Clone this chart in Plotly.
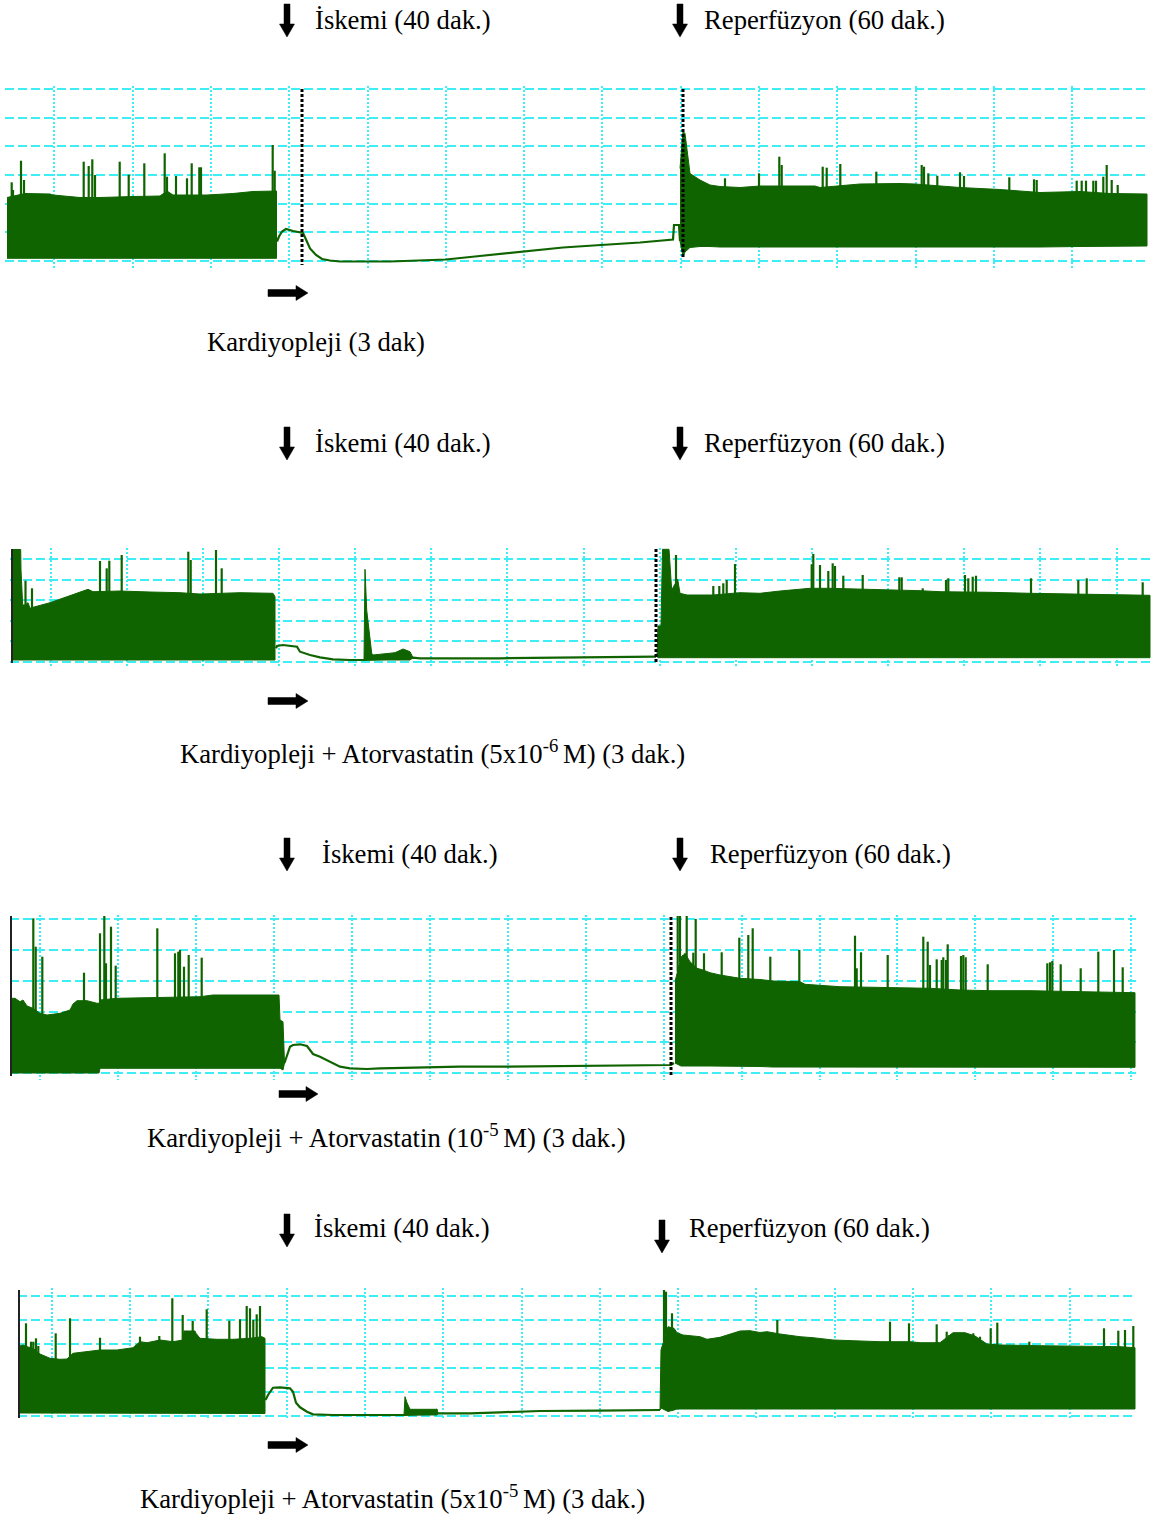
import numpy as np
import plotly.graph_objects as go

W, H = 1152, 1517
GREEN = "#0f6400"
CYAN = "#3deef4"
FONT = "Liberation Serif, Times New Roman, serif"
FSIZE = 26.7

# ---------------- Kayıt 1: Kardiyopleji (3 dak) ----------------
p1_pre_t = [7, 25, 50, 53, 80, 100, 133, 160, 167, 173, 207, 233, 253, 273, 276.5]
p1_pre_hi = [63.5, 67.5, 67, 66, 63.5, 63.5, 64.5, 65, 70, 66, 66, 67.5, 69.5, 70, 70]
p1_pre_lo = [2.7, 2.7, 2.7, 2.7, 2.7, 2.7, 2.7, 2.7, 2.7, 2.7, 2.7, 2.7, 2.7, 2.7, 2.7]
p1_isc_t = [277, 279, 282, 286, 293, 300, 303, 306, 310, 316, 322, 330, 340, 390, 446,
            475, 525, 563, 601, 640, 673, 674, 679, 680]
p1_isc_y = [19.5, 24.5, 29.5, 32, 30, 28.5, 28, 21.5, 12.5, 6, 2, 0.5, -0.5, -0.5, 1.5,
            4.5, 9.5, 13.5, 16, 18.5, 21.5, 36, 36, 20]
p1_rep_t = [680, 683, 685, 688, 690, 700, 710, 720, 740, 760, 790, 815, 820, 860, 900,
            915, 960, 1000, 1040, 1080, 1110, 1147]
p1_rep_hi = [92.5, 129.5, 127.5, 102.5, 87.5, 81, 76, 74.5, 73.5, 75, 75, 75, 73.5, 77, 77.5,
             77, 73.5, 71.5, 68.5, 69.5, 67.5, 67]
p1_rep_lo = [20, 4.5, 9, 12, 13.5, 14.5, 14.5, 14, 14, 14, 13.5, 13.5, 13.5, 13.5, 13.5,
             13.5, 13.5, 14, 14, 14.5, 15, 15]
p1_spk_t = [11.7, 13, 21, 24, 83.7, 88.7, 92.3, 95, 119.7, 128.7, 144.3, 164.7, 167, 176,
            187, 191.7, 199.3, 201, 272.7, 274.7,
            725, 759, 779.3, 781.7, 822.7, 826.7, 840.3, 876.3, 921.7, 924, 928.3, 937.3,
            960, 964, 1009.3, 1034, 1036.7, 1076.7, 1081.7, 1086, 1093.3, 1096, 1103.3,
            1106.7, 1111.7, 1117.7]
p1_spk_top = [78.7, 71, 100.3, 81, 99.3, 95, 101.7, 86, 99.3, 86.3, 97.7, 107.7, 84.3, 85,
              82.7, 97.7, 93.7, 93.7, 116, 90.3,
              82.7, 87.7, 104.3, 96, 94.3, 93.3, 97, 89.3, 96, 94.3, 87.7, 85.3,
              88.7, 85, 83.7, 81.7, 81, 80.3, 80.3, 80.3, 80.3, 80.3, 84.3,
              96, 81, 76]

# ---------------- Kayıt 2: Atorvastatin 5x10^-6 M ----------------
p2_pre_t = [12, 20.7, 21, 22.7, 25, 28, 30, 33, 50, 67, 80, 88, 93, 120, 150, 180, 200, 240,
            273, 275]
p2_pre_hi = [112.5, 112.5, 92, 57, 57, 59.3, 53.7, 54.7, 59.3, 65.3, 69.3, 72.7, 70.3, 71, 70,
             69.3, 68, 69.3, 68.7, 65.3]
p2_pre_lo = [2, 2, 2, 2, 2, 2, 2, 2, 2, 2, 2, 2, 2, 2, 2, 2, 2, 2, 2, 2]
p2_isc_t = [276, 277, 283, 297, 300, 310, 320, 333, 350, 364, 413, 420, 500, 600, 650, 656]
p2_isc_y = [13.7, 16, 17, 15.3, 10.3, 7, 4.7, 2.7, 2, 2, 4.3, 3.7, 3.7, 4.3, 5, 5.3]
p2_bst_t = [364, 365, 366.7, 369.3, 371.7, 373, 390, 395, 403, 410, 413]
p2_bst_hi = [2, 92.7, 52, 27, 8.7, 7, 8.7, 9.3, 13, 10.3, 4.3]
p2_bst_lo = [2, 2, 2, 2, 2, 2, 2, 2, 2, 2, 4.3]
p2_rep_t = [657, 658, 661, 662.5, 669, 670, 671.7, 677.7, 680, 687, 713, 740, 760, 780, 800,
            810, 830, 860, 890, 920, 940, 965, 990, 1030, 1080, 1110, 1150]
p2_rep_hi = [5.3, 36, 36, 112.7, 112.7, 95.3, 72, 82.7, 68.7, 67, 67, 69.3, 68.7, 71, 72.7,
             73.7, 73.7, 73, 72, 71.3, 70.3, 70.3, 69.7, 68.7, 67.7, 67, 66.7]
p2_rep_lo = [5.3, 4.3, 4.3, 4.3, 4.3, 4.3, 4.3, 4.3, 4.3, 4.3, 4.3, 4.3, 4.3, 4.3, 4.3,
             4.3, 4.3, 4.3, 4.3, 4.3, 4.3, 4.3, 4.3, 4.3, 4.3, 4.3, 4.3]
p2_spk_t = [25.5, 32, 100, 106.7, 109.3, 121.7, 188.3, 190.7, 216, 221.7,
            676, 713.3, 719.3, 723.3, 726.7, 735, 811.7, 813.3, 820, 828.3, 832.7, 835,
            843.3, 862.7, 899.3, 901.7, 922.7, 946, 948.3, 965, 968.3, 972.7, 976, 1031,
            1078.3, 1086.7, 1142.7]
p2_spk_top = [81.3, 73.7, 101, 93.7, 101.3, 107, 110.3, 102, 112, 93.7,
              107, 76, 76, 78.7, 82, 98, 97.7, 108, 97, 91, 98.7, 96,
              86.3, 87, 84.7, 84.7, 73.7, 82, 83.7, 87, 83.7, 85.3, 86.3, 83.7,
              82, 83.7, 79.7]

# ---------------- Kayıt 3: Atorvastatin 10^-5 M ----------------
p3_pre_t = [12, 15, 20, 23, 27, 33, 40, 47, 60, 70, 73, 77, 87, 93, 97, 99, 100, 117, 150,
            200, 213, 250, 279, 280, 283, 284.5]
p3_pre_hi = [74.7, 74.7, 71.3, 73, 67, 64.7, 59.7, 58, 59.7, 63, 69, 72.3, 72.3, 70.3, 69.7,
             69.7, 73, 74.7, 75.3, 76.3, 78, 78, 78, 53, 51.3, 10]
p3_pre_lo = [0, 0, 0, 0, 0, 0, 0, 0, 0, 0, 0, 0, 0, 0, 0, 0, 4.7, 4.7, 4.7, 4.7, 4.7, 4.7,
             4.7, 4.7, 3, 10]
p3_isc_t = [284.5, 290, 293, 300, 307, 311, 313, 320, 330, 340, 350, 367, 380, 420, 460, 500,
            600, 671, 674]
p3_isc_y = [10, 26.3, 28, 28.7, 27, 21.3, 19, 16.3, 11.3, 6.3, 4.7, 4, 4.7, 5.7, 6.3, 6.3,
            7.3, 8, 10]
p3_rep_t = [675, 681, 683, 686, 690, 697, 703, 710, 720, 733, 740, 760, 773, 800, 805, 840,
            870, 900, 930, 960, 990, 1030, 1070, 1100, 1110, 1135]
p3_rep_hi = [91.3, 115.7, 118, 118, 111.3, 104.7, 103, 100.3, 98, 95.7, 94.7, 93.5, 92, 91.3,
             88.7, 86.3, 85.7, 85.7, 84.7, 83, 82.3, 82.3, 81.3, 81.3, 80.3, 80.3]
p3_rep_lo = [10, 7, 7, 7, 7, 7, 7, 7, 7, 7, 7, 6.5, 6, 5.7, 5.7, 5.7, 5.7, 5.7, 5.7, 5.7,
             5.7, 5.7, 5.7, 5.7, 5.7, 5.7]
p3_spk_t = [33.3, 35.7, 42.3, 84, 100, 104.3, 106, 111, 115.7, 157.3, 175, 178.3, 180, 184,
            188.7, 201.7,
            677.7, 680, 685, 686.7, 693.3, 695.7, 704, 721.7, 739.3, 748.3, 752.7, 770.3,
            799.3, 855, 856.7, 861, 887.7, 923.3, 927.7, 930, 936.7, 941.7, 943.3, 946,
            947.7, 961, 963.3, 965.7, 987.7, 1047.3, 1050, 1052.3, 1060.7, 1080.7, 1098.3,
            1114, 1122.7]
p3_spk_top = [154.7, 126.3, 116.3, 100.3, 139.7, 157, 109.7, 146.3, 107.3, 144.7, 119.7,
              121.3, 123, 106.3, 118, 115.3,
              157, 157, 119.7, 157, 120.3, 154, 119.7, 120.7, 135.3, 138, 144.7, 116.3,
              123, 137.3, 104.7, 120.7, 118, 136.3, 131.3, 108, 113.7, 113, 115.7, 113,
              128.7, 117, 118, 115.7, 108.7, 109.7, 110.7, 112, 108.7, 104.7, 121.3,
              123, 105.7]

# ---------------- Kayıt 4: Atorvastatin 5x10^-5 M ----------------
p4_pre_t = [19.5, 23, 27, 33, 40, 50, 60, 67, 73, 93, 100, 117, 133, 140, 147, 160, 173, 183,
            184, 195, 196, 200, 217, 233, 250, 262, 265]
p4_pre_hi = [70, 71, 69.3, 67.7, 62, 57.7, 56.7, 57, 62.7, 65.3, 66, 66, 68.3, 74.3, 73.3, 76,
             74.3, 76, 85, 85, 82.7, 77.7, 76.7, 76.7, 77.7, 79.3, 77.7]
p4_pre_lo = [3, 3, 3, 3, 3, 3, 3, 3, 3, 3, 3, 3, 3, 3, 3, 3, 3, 3, 3, 3, 3,
             2.5, 2.5, 2.5, 2.5, 2.5, 2.5]
p4_isc_t = [265.5, 268, 273, 280, 290, 293, 296, 300, 307, 313, 333, 367, 404, 438, 470, 500,
            540, 600, 640, 660]
p4_isc_y = [16, 21, 28.3, 28.7, 27.7, 24.3, 13.3, 8.7, 4.3, 1.7, 1, 1, 1, 2.7, 2.7, 3.7, 5,
            5.3, 6, 6]
p4_bst_t = [404, 405, 407, 410, 436, 437, 438]
p4_bst_hi = [1, 19.3, 13.3, 6.7, 6.7, 7, 2.7]
p4_bst_lo = [1, 1, 1, 1, 1, 1, 2.7]
p4_rep_t = [660, 661, 668, 674, 677, 683, 700, 707, 720, 733, 740, 750, 760, 767, 780, 800,
            813, 833, 860, 880, 910, 920, 940, 953, 965, 975, 987, 1000, 1040, 1080, 1100,
            1120, 1135]
p4_rep_hi = [6, 66, 89.3, 87.7, 83.3, 81, 79.3, 76.7, 78.7, 82.7, 85, 85.3, 83.5, 84.3, 82,
             79.3, 78.3, 76, 75.3, 74.3, 74.3, 73.3, 73.3, 83.3, 83.3, 80, 72, 71, 70.3, 70,
             69.3, 69.3, 68.3]
p4_rep_lo = [6, 8, 4.5, 6, 7, 7, 7, 7, 7, 7, 7, 7, 7, 7, 7, 7, 7, 7, 7, 7, 7, 7, 7, 7, 7, 7,
             7, 7, 7, 7, 7, 7, 7]
p4_spk_t = [26, 31, 33.3, 36, 38.3, 55.7, 70, 100, 140, 159.3, 172.3, 182.7, 192.7, 206.7,
            229.3, 240, 246.7, 250, 253.3, 256.7, 260,
            664, 666, 672, 777.3, 890, 909, 936.7, 946.7, 949.3, 969.3, 973.3, 980, 990.7,
            997.3, 1029.3, 1104, 1118.3, 1125, 1133.3]
p4_spk_top = [92.7, 74.3, 74.3, 77.7, 70, 82.7, 97.7, 78.3, 79.3, 80, 117.7, 101, 95, 106.7,
              95.3, 96.7, 110, 107.7, 96, 101.7, 110,
              126, 124.3, 102.7, 96, 94.3, 92.7, 91.7, 84.3, 81, 81, 82.7, 79.3, 87.7,
              93.3, 74.3, 87.7, 85.3, 86, 90]

# Labels
lbl_isc = "İskemi (40 dak.)"
lbl_rep = "Reperfüzyon (60 dak.)"
lbl_cp = [
    "Kardiyopleji (3 dak)",
    "Kardiyopleji + Atorvastatin (5x10<sup>-6 </sup>M) (3 dak.)",
    "Kardiyopleji + Atorvastatin (10<sup>-5 </sup>M) (3 dak.)",
    "Kardiyopleji + Atorvastatin (5x10<sup>-5 </sup>M) (3 dak.)",
]

panels = [
    dict(blocks=[(p1_pre_t, p1_pre_hi, p1_pre_lo), (p1_rep_t, p1_rep_hi, p1_rep_lo)],
         isc=(p1_isc_t, p1_isc_y), spk=(p1_spk_t, p1_spk_top),
         box=(5, 1148, 86, 268), base=261, ystep=28.67, xgrid=(54.3, 78.3),
         events=[(302, 172, -4), (683, 172, 3)], frame=None,
         arrows=[(287, 4, 37), (680, 4, 37)], titles=[(313, 20), (702, 20)],
         rarrow=(268, 308, 293), cp=(205, 342)),
    dict(blocks=[(p2_pre_t, p2_pre_hi, p2_pre_lo), (p2_bst_t, p2_bst_hi, p2_bst_lo),
                 (p2_rep_t, p2_rep_hi, p2_rep_lo)],
         isc=(p2_isc_t, p2_isc_y), spk=(p2_spk_t, p2_spk_top),
         box=(10, 1151, 548, 668), base=662, ystep=20.6, xgrid=(50.5, 76.15),
         events=[(656, 113, -1)], frame=(12, 113, -1),
         arrows=[(287, 427, 460), (680, 427, 460)], titles=[(313, 443), (702, 443)],
         rarrow=(268, 308, 701), cp=(178, 752)),
    dict(blocks=[(p3_pre_t, p3_pre_hi, p3_pre_lo), (p3_rep_t, p3_rep_hi, p3_rep_lo)],
         isc=(p3_isc_t, p3_isc_y), spk=(p3_spk_t, p3_spk_top),
         box=(10, 1136, 915, 1080), base=1073, ystep=30.74, xgrid=(40, 77.95),
         events=[(671, 156, -2)], frame=(11, 157, -3),
         arrows=[(287, 838, 871), (680, 838, 871)], titles=[(320, 854), (708, 854)],
         rarrow=(279, 318, 1094), cp=(145, 1136)),
    dict(blocks=[(p4_pre_t, p4_pre_hi, p4_pre_lo), (p4_bst_t, p4_bst_hi, p4_bst_lo),
                 (p4_rep_t, p4_rep_hi, p4_rep_lo)],
         isc=(p4_isc_t, p4_isc_y), spk=(p4_spk_t, p4_spk_top),
         box=(18, 1136, 1288, 1420), base=1416, ystep=24.1, xgrid=(51.7, 78.3),
         events=[], frame=(19, 126, -2),
         arrows=[(287, 1214, 1247), (662, 1220, 1253)], titles=[(312, 1228), (687, 1228)],
         rarrow=(268, 308, 1445), cp=(138, 1497)),
]


def px(x):
    return x / W


def py(y):
    return 1 - y / H


def poly_path(pts):
    return "M " + " L ".join(f"{px(a):.5f},{py(b):.5f}" for a, b in pts) + " Z"


def down_arrow(cx, y0, y1):
    hh = 13
    return poly_path([(cx - 3, y0), (cx + 3, y0), (cx + 3, y1 - hh), (cx + 7.5, y1 - hh),
                      (cx, y1), (cx - 7.5, y1 - hh), (cx - 3, y1 - hh)])


def right_arrow(x0, x1, cy):
    hl = 12
    return poly_path([(x0, cy - 3.5), (x1 - hl, cy - 3.5), (x1 - hl, cy - 7.5), (x1, cy),
                      (x1 - hl, cy + 7.5), (x1 - hl, cy + 3.5), (x0, cy + 3.5)])


fig = go.Figure()
layout = dict(width=W, height=H, margin=dict(l=0, r=0, t=0, b=0),
              paper_bgcolor="white", plot_bgcolor="rgba(0,0,0,0)", showlegend=False)
shapes, annots = [], []

for i, p in enumerate(panels, start=1):
    xa = "x" if i == 1 else f"x{i}"
    ya = "y" if i == 1 else f"y{i}"
    x0, x1, ytop, ybot = p["box"]
    base = p["base"]

    layout["xaxis" if i == 1 else f"xaxis{i}"] = dict(
        domain=[px(x0), px(x1)], range=[x0, x1], anchor=ya,
        showgrid=True, gridcolor=CYAN, gridwidth=2, griddash="2px,2px",
        tick0=p["xgrid"][0], dtick=p["xgrid"][1],
        showticklabels=False, ticks="", zeroline=False, showline=False)
    layout["yaxis" if i == 1 else f"yaxis{i}"] = dict(
        domain=[py(ybot), py(ytop)], range=[base - ybot, base - ytop], anchor=xa,
        showgrid=True, gridcolor=CYAN, gridwidth=1.5, griddash="9px,4px",
        tick0=0, dtick=p["ystep"],
        showticklabels=False, ticks="", zeroline=False, showline=False)

    # ischemia / cardioplegia trace
    t, y = p["isc"]
    fig.add_trace(go.Scatter(x=t, y=y, mode="lines", xaxis=xa, yaxis=ya,
                             line=dict(color=GREEN, width=2.2), hoverinfo="skip"))

    # contraction envelopes
    all_t, all_hi = [], []
    for bt, bhi, blo in p["blocks"]:
        fig.add_trace(go.Scatter(x=list(bt) + list(bt)[::-1], y=list(bhi) + list(blo)[::-1],
                                 mode="lines", fill="toself", fillcolor=GREEN,
                                 line=dict(color=GREEN, width=1), xaxis=xa, yaxis=ya,
                                 hoverinfo="skip"))
        all_t += list(bt)
        all_hi += list(bhi)

    # isolated high beats
    st, stop = p["spk"]
    sbase = np.interp(st, all_t, all_hi)
    sx, sy = [], []
    for a, b, c in zip(st, sbase, stop):
        sx += [a, a, None]
        sy += [b - 1, c, None]
    fig.add_trace(go.Scatter(x=sx, y=sy, mode="lines", xaxis=xa, yaxis=ya,
                             line=dict(color=GREEN, width=2.2), hoverinfo="skip"))

    # event markers
    for ex, ya0, ya1 in p["events"]:
        shapes.append(dict(type="line", xref=xa, yref=ya, x0=ex, x1=ex, y0=ya0, y1=ya1,
                           line=dict(color="black", width=3, dash="3px,2px")))
    if p["frame"]:
        fx, fa, fb = p["frame"]
        shapes.append(dict(type="line", xref=xa, yref=ya, x0=fx, x1=fx, y0=fa, y1=fb,
                           line=dict(color="#222222", width=2)))

    # arrows and labels
    for (cx, a0, a1) in p["arrows"]:
        shapes.append(dict(type="path", xref="paper", yref="paper", path=down_arrow(cx, a0, a1),
                           fillcolor="black", line=dict(color="black", width=0.5)))
    rx0, rx1, rcy = p["rarrow"]
    shapes.append(dict(type="path", xref="paper", yref="paper", path=right_arrow(rx0, rx1, rcy),
                       fillcolor="black", line=dict(color="black", width=0.5)))
    for (tx, ty), txt in zip(p["titles"], [lbl_isc, lbl_rep]):
        annots.append(dict(x=px(tx), y=py(ty), xref="paper", yref="paper", text=txt,
                           showarrow=False, xanchor="left", yanchor="middle",
                           font=dict(family=FONT, size=FSIZE, color="black")))
    cx_, cy_ = p["cp"]
    annots.append(dict(x=px(cx_), y=py(cy_), xref="paper", yref="paper", text=lbl_cp[i - 1],
                       showarrow=False, xanchor="left", yanchor="middle",
                       font=dict(family=FONT, size=FSIZE, color="black")))

layout["shapes"] = shapes
layout["annotations"] = annots
fig.update_layout(**layout)
fig.write_html("out.html")
